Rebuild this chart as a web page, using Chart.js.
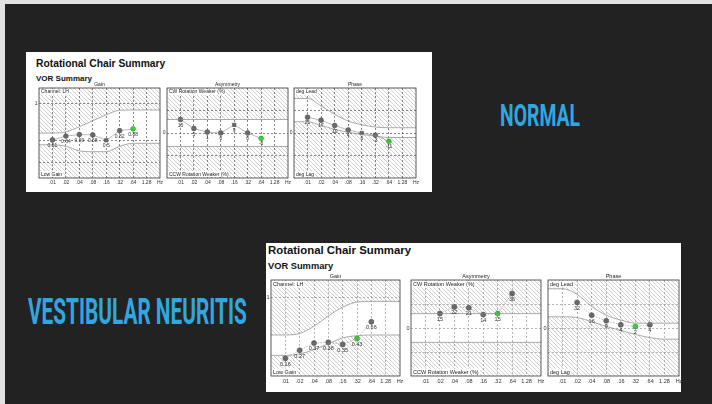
<!DOCTYPE html>
<html>
<head>
<meta charset="utf-8">
<script src="https://cdn.jsdelivr.net/npm/chart.js@4.4.1/dist/chart.umd.min.js"></script>
<style>
html, body { margin: 0; padding: 0; }
body { width: 712px; height: 404px; background: #e2e2e2; position: relative; overflow: hidden; font-family: 'Liberation Sans', Arial, sans-serif; }
#slide { position: absolute; left: 5px; top: 4px; right: 0; bottom: 0; background: #222222; }
.card { position: absolute; background: #fff; }
.title { position: absolute; font-weight: bold; color: #111; white-space: nowrap; line-height: 1; }
.big { position: absolute; color: #31a7e0; font-family: Roboto, sans-serif; font-weight: 700; white-space: nowrap; line-height: 1; transform-origin: 0 0; }
canvas { position: absolute; }
</style>
</head>
<body>
<div id="slide"></div>
<div class="card" style="left:26px;top:52px;width:406px;height:140px"></div>
<div class="card" style="left:266px;top:243px;width:415px;height:149px"></div>
<div class="title" style="left:36px;top:58.7px;font-size:10.3px">Rotational Chair Summary</div>
<div class="title" style="left:36px;top:75px;font-size:8px">VOR Summary</div>
<div class="title" style="left:268px;top:245.2px;font-size:11.4px">Rotational Chair Summary</div>
<div class="title" style="left:268px;top:261.5px;font-size:9.3px">VOR Summary</div>
<div class="big" id="lblNormal" data-w="80" style="left:500px;top:101px;font-size:30.5px">NORMAL</div>
<div class="big" id="lblVn" data-w="219" style="left:27.5px;top:292.8px;font-size:37.4px">VESTIBULAR NEURITIS</div>

<script>
// frequencies (Hz)
const testFreqs = [0.01, 0.02, 0.04, 0.08, 0.16, 0.32, 0.64];
const bandFreqs = [0.005, 0.01, 0.02, 0.04, 0.08, 0.16, 0.32, 0.64, 1.28, 2.56];
const tickFreqs = [0.01, 0.02, 0.04, 0.08, 0.16, 0.32, 0.64, 1.28, 2.56];
const tickLabels = ['.01', '.02', '.04', '.08', '.16', '.32', '.64', '1.28', 'Hz'];

// normal subject
const normalGain = [0.51, 0.64, 0.69, 0.68, 0.5, 0.82, 0.88];
const normalAsym = [15, 5, 1, 0, 9, 0, -6];
const normalPhase = [21, 17, 10, 4, 0, -3, -11];

// vestibular neuritis
const neuritisGain = [0.16, 0.27, 0.37, 0.38, 0.35, 0.43, 0.66];
const neuritisAsym = [null, 15, 22, 21, 14, 15, 36];
const neuritisPhase = [null, 32, 16, 9, 4, 2, 4];

// normal ranges (upper / lower edge at bandFreqs)
const normalGainHi = [0.74, 0.74, 0.78, 0.95, 1.15, 1.35, 1.5, 1.51, 1.51, 1.51];
const normalGainLo = [0.35, 0.35, 0.3, 0.15, 0.12, 0.12, 0.3, 0.4, 0.4, 0.4];
const neuritisGainHi = [0.48, 0.48, 0.5, 0.6, 0.74, 0.86, 0.93, 0.94, 0.94, 0.94];
const neuritisGainLo = [0.2, 0.2, 0.22, 0.28, 0.36, 0.44, 0.47, 0.48, 0.48, 0.48];
const asymHi = [15, 15, 15, 15, 15, 15, 15, 15, 15, 15];
const asymLo = [-15, -15, -15, -15, -15, -15, -15, -15, -15, -15];
const normalPhaseHi = [46, 46, 36, 25, 16, 11, 8, 7, 7, 7];
const normalPhaseLo = [15, 15, 10, 5, 1, -2, -4, -6, -6, -6];
const neuritisPhaseHi = [49, 49, 42, 27, 16, 10, 6, 6, 6, 6];
const neuritisPhaseLo = [14, 14, 13, 8, 2, -3, -8, -12, -14, -14];

function fmt(v) { return v == null ? null : String(v); }

const hatch = (function () {
    var c = document.createElement('canvas');
    c.width = 4; c.height = 4;
    var g = c.getContext('2d');
    g.strokeStyle = 'rgba(90,90,90,0.42)';
    g.lineWidth = 0.7;
    g.beginPath();
    g.moveTo(0, 0); g.lineTo(4, 4);
    g.moveTo(-1, 3); g.lineTo(1, 5);
    g.moveTo(3, -1); g.lineTo(5, 1);
    g.stroke();
    return g.createPattern(c, 'repeat');
})();

const panelDeco = {
    id: 'panelDeco',
    afterDraw: function (chart) {
        var o = chart.options.plugins.panelDeco;
        var a = chart.chartArea, ctx = chart.ctx;
        ctx.save();
        ctx.strokeStyle = '#333';
        ctx.lineWidth = 0.8;
        ctx.strokeRect(a.left, a.top, a.right - a.left, a.bottom - a.top);

        ctx.font = o.fs + 'px "Liberation Sans", Arial';
        ctx.fillStyle = '#222';
        ctx.textAlign = 'center';
        ctx.textBaseline = 'bottom';
        ctx.fillText(o.title, (a.left + a.right) / 2, a.top - 0.5);

        // corner captions on white boxes
        ctx.textAlign = 'left';
        [[o.topText, a.top + 1, 'top'], [o.botText, a.bottom - 1, 'bottom']].forEach(function (t) {
            var w = ctx.measureText(t[0]).width;
            var y0 = t[2] === 'top' ? t[1] : t[1] - o.fs - 1;
            ctx.fillStyle = '#fff';
            ctx.fillRect(a.left + 1, y0, w + 2, o.fs + 1);
            ctx.fillStyle = '#222';
            ctx.textBaseline = t[2];
            ctx.fillText(t[0], a.left + 2, t[1] + (t[2] === 'top' ? 0.5 : 0));
        });

        // value labels under the points
        var meta = chart.getDatasetMeta(2);
        ctx.textAlign = 'center';
        ctx.textBaseline = 'top';
        ctx.fillStyle = '#333';
        meta.data.forEach(function (pt, i) {
            var lab = fmt(o.values[i]);
            if (lab == null || pt.skip) return;
            ctx.fillText(lab, pt.x, pt.y + 3.2);
        });
        ctx.restore();
    }
};

function makePanel(p) {
    var padL = 10, padR = 7, padT = 9, padB = 10;
    var cv = document.createElement('canvas');
    var w = p.r - p.l + padL + padR, h = p.b - p.t + padT + padB;
    cv.width = w; cv.height = h;
    cv.style.left = (p.l - padL) + 'px';
    cv.style.top = (p.t - padT) + 'px';
    cv.style.width = w + 'px';
    cv.style.height = h + 'px';
    document.body.appendChild(cv);

    var band = function (arr) {
        return bandFreqs.map(function (f, i) { return { x: f, y: arr[i] }; });
    };
    var pts = testFreqs.map(function (f, i) { return { x: f, y: p.values[i] }; });
    var edge = { fill: 'end', backgroundColor: hatch, borderColor: '#888', borderWidth: 0.7, pointRadius: 0, cubicInterpolationMode: 'monotone' };

    new Chart(cv, {
        type: 'line',
        data: {
            datasets: [
                Object.assign({}, edge, { data: band(p.hi), fill: 'end' }),
                Object.assign({}, edge, { data: band(p.lo), fill: 'start' }),
                {
                    data: pts,
                    fill: false,
                    borderColor: '#aaa',
                    borderWidth: 0.8,
                    borderDash: p.dotted ? [1.5, 1.5] : [],
                    pointRadius: p.pr,
                    pointStyle: function (c) { return c.dataIndex === p.rectAt ? 'rect' : 'circle'; },
                    pointBackgroundColor: function (c) { return c.dataIndex === p.greenAt ? '#38d238' : '#6b6b6b'; },
                    pointBorderColor: function (c) { return c.dataIndex === p.greenAt ? '#1f9a1f' : '#4a4a4a'; },
                    pointBorderWidth: 0.6
                }
            ]
        },
        options: {
            responsive: false,
            animation: false,
            devicePixelRatio: 1,
            layout: { padding: { left: 0, top: padT, right: padR, bottom: 0 } },
            plugins: {
                legend: { display: false },
                tooltip: { enabled: false },
                panelDeco: { title: p.title, topText: p.topText, botText: p.botText, values: p.values, fs: p.fs }
            },
            scales: {
                x: {
                    type: 'logarithmic',
                    min: 0.005,
                    max: 2.56,
                    afterBuildTicks: function (s) { s.ticks = tickFreqs.map(function (v) { return { value: v }; }); },
                    afterFit: function (s) { s.height = padB; s.paddingLeft = 0; s.paddingRight = 0; },
                    ticks: {
                        autoSkip: false, maxRotation: 0, padding: 2, color: '#333',
                        font: { size: p.fs, family: '"Liberation Sans", Arial' },
                        callback: function (v, i) { return tickLabels[i]; }
                    },
                    grid: {
                        drawTicks: false,
                        lineWidth: 0.7,
                        color: function (c) { return c.tick && c.tick.value >= 2.56 ? 'rgba(0,0,0,0)' : p.gridColor; }
                    },
                    border: { display: false, dash: [2, 2] }
                },
                y: {
                    min: p.yMin,
                    max: p.yMax,
                    afterBuildTicks: function (s) { s.ticks = p.yGrid.map(function (v) { return { value: v }; }); },
                    afterFit: function (s) { s.width = padL; s.paddingTop = 0; s.paddingBottom = 0; },
                    ticks: {
                        autoSkip: false, padding: 1.5, color: '#333',
                        font: { size: p.fs, family: '"Liberation Sans", Arial' },
                        callback: function (v) { return v === p.yTick ? p.yTickLabel : ''; }
                    },
                    grid: { drawTicks: false, lineWidth: 0.7, color: p.gridColor },
                    border: { display: false, dash: [2, 2] }
                }
            }
        },
        plugins: [panelDeco]
    });
}

// NORMAL card
makePanel({ l: 39, r: 160, t: 88, b: 178, title: 'Gain', topText: 'Channel: LH', botText: 'Low Gain',
    values: normalGain, hi: normalGainHi, lo: normalGainLo, yMin: -0.757, yMax: 2.243,
    yGrid: [1.73, 0.5, -0.25], yTick: 1.73, yTickLabel: '1', rectAt: 4, greenAt: 6, pr: 2.4, fs: 5, gridColor: '#555' });
makePanel({ l: 167, r: 288, t: 88, b: 178, title: 'Asymmetry', topText: 'CW Rotation Weaker (%)', botText: 'CCW Rotation Weaker (%)',
    values: normalAsym, hi: asymHi, lo: asymLo, yMin: -50, yMax: 50,
    yGrid: [-25, 0, 25], yTick: 0, yTickLabel: '0', rectAt: 4, greenAt: 6, pr: 2.4, fs: 5, gridColor: '#555' });
makePanel({ l: 294, r: 416, t: 88, b: 178, title: 'Phase', topText: 'deg Lead', botText: 'deg Lag',
    values: normalPhase, hi: normalPhaseHi, lo: normalPhaseLo, yMin: -60, yMax: 60,
    yGrid: [-30, 0, 30], yTick: 0, yTickLabel: '0', rectAt: 4, greenAt: 6, pr: 2.4, fs: 5, gridColor: '#555' });

// VESTIBULAR NEURITIS card
makePanel({ l: 271, r: 400, t: 280, b: 376, title: 'Gain', topText: 'Channel: LH', botText: 'Low Gain',
    values: neuritisGain, hi: neuritisGainHi, lo: neuritisGainLo, yMin: -0.082, yMax: 1.233,
    yGrid: [1], yTick: 1, yTickLabel: '1', rectAt: -1, greenAt: 5, pr: 2.5, fs: 5.5, gridColor: '#999', dotted: true });
makePanel({ l: 411, r: 541, t: 280, b: 376, title: 'Asymmetry', topText: 'CW Rotation Weaker (%)', botText: 'CCW Rotation Weaker (%)',
    values: neuritisAsym, hi: asymHi, lo: asymLo, yMin: -50, yMax: 50,
    yGrid: [-25, 0, 25], yTick: 0, yTickLabel: '0', rectAt: -1, greenAt: 5, pr: 2.5, fs: 5.5, gridColor: '#999', dotted: true });
makePanel({ l: 548, r: 679, t: 280, b: 376, title: 'Phase', topText: 'deg Lead', botText: 'deg Lag',
    values: neuritisPhase, hi: neuritisPhaseHi, lo: neuritisPhaseLo, yMin: -60, yMax: 60,
    yGrid: [-30, 0, 30], yTick: 0, yTickLabel: '0', rectAt: -1, greenAt: 5, pr: 2.5, fs: 5.5, gridColor: '#999', dotted: true });

// squeeze the condensed captions to their width
document.querySelectorAll('.big').forEach(function (el) {
    var target = parseFloat(el.getAttribute('data-w'));
    el.style.transform = 'scaleX(' + (target / el.offsetWidth) + ')';
});
</script>
</body>
</html>
